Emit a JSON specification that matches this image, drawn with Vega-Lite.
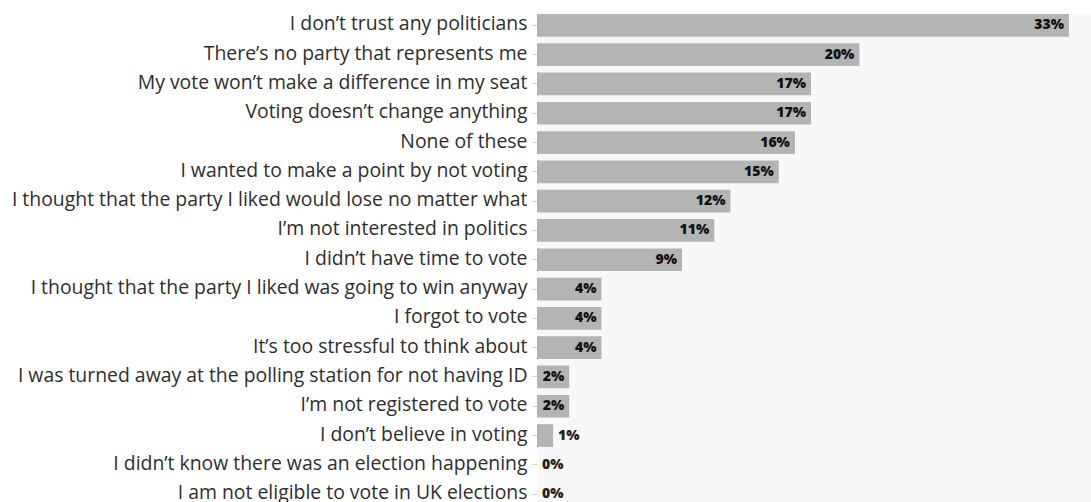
{
  "$schema": "https://vega.github.io/schema/vega-lite/v6.json",
  "width": 554,
  "height": 488,
  "autosize": {"type": "none"},
  "padding": {"left": 537, "top": 14, "right": 0, "bottom": 0},
  "background": "#ffffff",
  "config": {"view": {"stroke": null, "fill": "#f8f8f8"}},
  "data": {
    "values": [
      {"reason": "I don’t trust any politicians", "pct": 33, "label": "33%"},
      {"reason": "There’s no party that represents me", "pct": 20, "label": "20%"},
      {"reason": "My vote won’t make a difference in my seat", "pct": 17, "label": "17%"},
      {"reason": "Voting doesn’t change anything", "pct": 17, "label": "17%"},
      {"reason": "None of these", "pct": 16, "label": "16%"},
      {"reason": "I wanted to make a point by not voting", "pct": 15, "label": "15%"},
      {"reason": "I thought that the party I liked would lose no matter what", "pct": 12, "label": "12%"},
      {"reason": "I’m not interested in politics", "pct": 11, "label": "11%"},
      {"reason": "I didn’t have time to vote", "pct": 9, "label": "9%"},
      {"reason": "I thought that the party I liked was going to win anyway", "pct": 4, "label": "4%"},
      {"reason": "I forgot to vote", "pct": 4, "label": "4%"},
      {"reason": "It’s too stressful to think about", "pct": 4, "label": "4%"},
      {"reason": "I was turned away at the polling station for not having ID", "pct": 2, "label": "2%"},
      {"reason": "I’m not registered to vote", "pct": 2, "label": "2%"},
      {"reason": "I don’t believe in voting", "pct": 1, "label": "1%"},
      {"reason": "I didn’t know there was an election happening", "pct": 0, "label": "0%"},
      {"reason": "I am not eligible to vote in UK elections", "pct": 0, "label": "0%"}
    ]
  },
  "encoding": {
    "y": {
      "field": "reason",
      "type": "nominal",
      "sort": null,
      "scale": {"range": [0, 491.5], "paddingInner": 0.225, "paddingOuter": 0},
      "axis": {
        "title": null,
        "labelFont": "Open Sans",
        "labelFontSize": 19.4,
        "labelColor": "#2e2e2e",
        "labelPadding": 5,
        "labelOffset": -1,
        "tickSize": 5,
        "tickColor": "#d0d0d0",
        "domain": false,
        "labelLimit": 0
      }
    },
    "x": {
      "field": "pct",
      "type": "quantitative",
      "scale": {"domain": [0, 34.37]},
      "axis": null
    }
  },
  "layer": [
    {"mark": {"type": "bar", "color": "#b4b4b4"}},
    {
      "transform": [{"filter": "datum.pct >= 2"}],
      "mark": {"type": "text", "align": "right", "dx": -5, "font": "Open Sans", "fontWeight": 800, "fontSize": 14, "color": "#111111"},
      "encoding": {"text": {"field": "label"}}
    },
    {
      "transform": [{"filter": "datum.pct < 2"}],
      "mark": {"type": "text", "align": "left", "dx": 5, "font": "Open Sans", "fontWeight": 800, "fontSize": 14, "color": "#222222"},
      "encoding": {"text": {"field": "label"}}
    }
  ]
}
